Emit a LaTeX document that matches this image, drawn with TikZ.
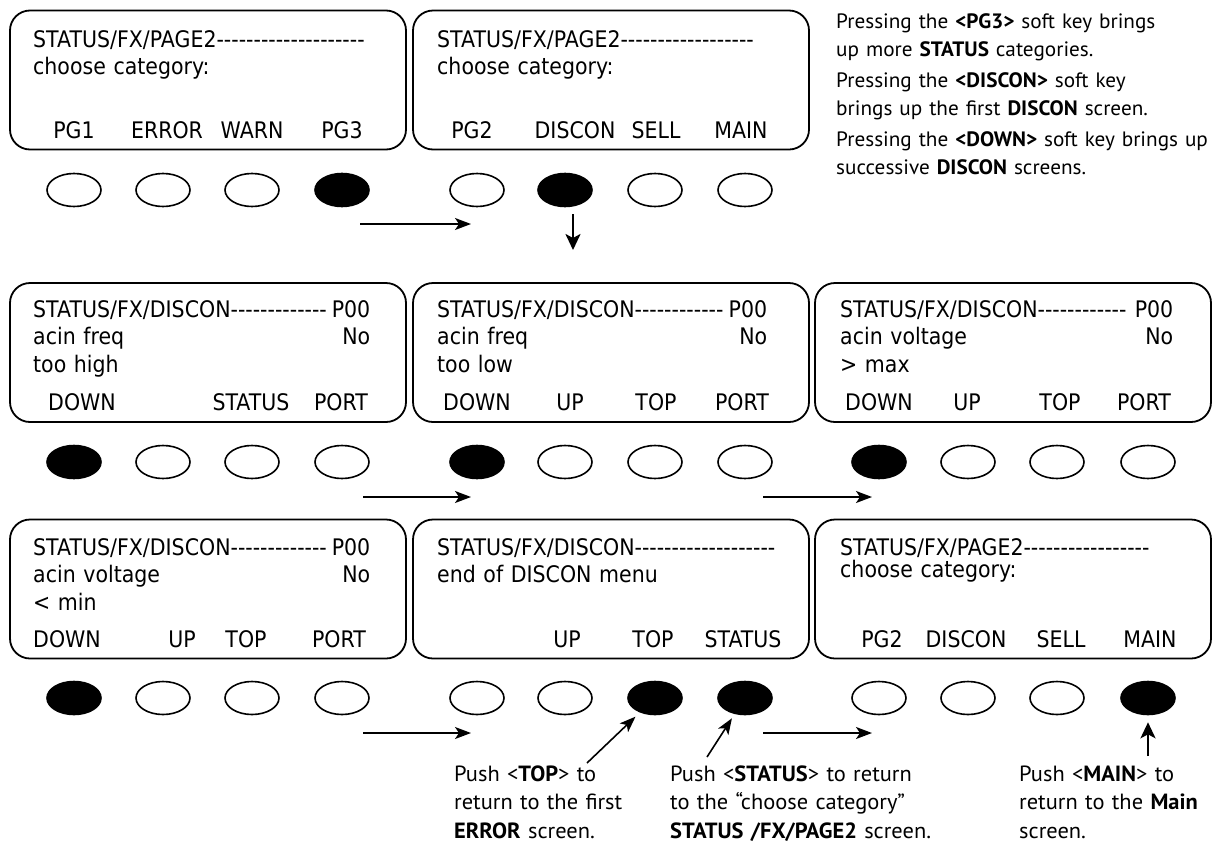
\documentclass[tikz,border=0pt]{standalone}
\usepackage{fontspec}
\setmainfont{PT Sans}[FakeStretch=1.02]
\newfontfamily\lcdfont[FakeStretch=0.9]{DejaVu Sans}
\usetikzlibrary{arrows.meta,shapes.geometric}

% a run of single hyphens (no en/em dash ligatures)
\ExplSyntaxOn
\newcommand\dashes[1]{\prg_replicate:nn{#1}{-{}}}
\ExplSyntaxOff

\tikzset{
  screen/.style={draw,line width=1.8pt,rounded corners=20pt,minimum width=396pt,minimum height=139pt,inner sep=0pt},
  lcd/.style={anchor=base west,align=left,inner sep=0pt,font=\lcdfont\fontsize{22.8}{27.5}\selectfont},
  keylabel/.style={anchor=base,inner sep=0pt,font=\lcdfont\fontsize{22.8}{27.5}\selectfont},
  softkey/.style={draw,ellipse,line width=1.6pt,minimum width=54pt,minimum height=33pt,inner sep=0pt},
  flow/.style={line width=1.6pt,-{Stealth[length=16pt,width=12pt,inset=4pt]}},
  push/.style={line width=2.4pt,-{Stealth[length=16pt,width=15pt,inset=4pt]}},
  note/.style={anchor=base west,align=left,inner sep=0pt,text width=450pt,font=\fontsize{22}{28.5}\selectfont},
}

\begin{document}
\begin{tikzpicture}[x=1pt,y=-1pt]
\useasboundingbox (0,0) rectangle (1213,844);

% screens
\node[screen] (s1) at (208,80) {};
\node[screen] (s2) at (611,80) {};
\node[screen] (s3) at (208,352.5) {};
\node[screen] (s4) at (611,352.5) {};
\node[screen] (s5) at (1013,352.5) {};
\node[screen] (s6) at (208,589) {};
\node[screen] (s7) at (611,589) {};
\node[screen] (s8) at (1013,589) {};

% screen text
\node[lcd,text width=360pt] (t1) at (33,47) {STATUS/FX/PAGE2\dashes{20}\\choose category:};
\node[lcd,text width=360pt] (t2) at (437,47) {STATUS/FX/PAGE2\dashes{18}\\choose category:};
\node[lcd,text width=337pt] (t3) at (33,317) {STATUS/FX/DISCON\dashes{13}\hfill P00\\acin freq\hfill No\\too high};
\node[lcd,text width=330pt] (t4) at (437,317) {STATUS/FX/DISCON\dashes{12}\hfill P00\\acin freq\hfill No\\too low};
\node[lcd,text width=333pt] (t5) at (840,317) {STATUS/FX/DISCON\dashes{12}\hfill P00\\acin voltage\hfill No\\> max};
\node[lcd,text width=337pt] (t6) at (33,555) {STATUS/FX/DISCON\dashes{13}\hfill P00\\acin voltage\hfill No\\< min};
\node[lcd,text width=360pt] (t7) at (437,555) {STATUS/FX/DISCON\dashes{19}\\end of DISCON menu};
\node[lcd,text width=360pt] (t8) at (840,555) {STATUS/FX/PAGE2\dashes{17}\\[-5.5pt]choose category:};

% soft key labels
\foreach \x/\t in {74/PG1,167/ERROR,252/WARN,342/PG3}
  \node[keylabel] (l1-\t) at (\x,138) {\t};
\foreach \x/\t in {472/PG2,575/DISCON,656/SELL,741/MAIN}
  \node[keylabel] (l2-\t) at (\x,138) {\t};
\foreach \x/\t in {82/DOWN,251/STATUS,341/PORT}
  \node[keylabel] (l3-\t) at (\x,410) {\t};
\foreach \x/\t in {477/DOWN,570/UP,656/TOP,742/PORT}
  \node[keylabel] (l4-\t) at (\x,410) {\t};
\foreach \x/\t in {879/DOWN,967/UP,1060/TOP,1144/PORT}
  \node[keylabel] (l5-\t) at (\x,410) {\t};
\foreach \x/\t in {67/DOWN,182/UP,246/TOP,339/PORT}
  \node[keylabel] (l6-\t) at (\x,647) {\t};
\foreach \x/\t in {567/UP,653/TOP,743/STATUS}
  \node[keylabel] (l7-\t) at (\x,647) {\t};
\foreach \x/\t in {882/PG2,966/DISCON,1061/SELL,1150/MAIN}
  \node[keylabel] (l8-\t) at (\x,647) {\t};

% soft keys
\foreach \x/\c [count=\i] in {74/white,163/white,252/white,342/black}
  \node[softkey,fill=\c] (k1\i) at (\x,190) {};
\foreach \x/\c [count=\i] in {477/white,565/black,655/white,745/white}
  \node[softkey,fill=\c] (k2\i) at (\x,190) {};
\foreach \x/\c [count=\i] in {74/black,163/white,252/white,342/white}
  \node[softkey,fill=\c] (k3\i) at (\x,462) {};
\foreach \x/\c [count=\i] in {477/black,565/white,655/white,745/white}
  \node[softkey,fill=\c] (k4\i) at (\x,462) {};
\foreach \x/\c [count=\i] in {879/black,968/white,1057/white,1148/white}
  \node[softkey,fill=\c] (k5\i) at (\x,462) {};
\foreach \x/\c [count=\i] in {74/black,163/white,252/white,342/white}
  \node[softkey,fill=\c] (k6\i) at (\x,698) {};
\foreach \x/\c [count=\i] in {477/white,565/white,655/black,745/black}
  \node[softkey,fill=\c] (k7\i) at (\x,698) {};
\foreach \x/\c [count=\i] in {879/white,968/white,1057/white,1148/black}
  \node[softkey,fill=\c] (k8\i) at (\x,698) {};

% flow between screens
\coordinate (r1a) at (360,224); \coordinate (r1b) at (471,224);
\coordinate (dsa) at (573,214); \coordinate (dsb) at (573,250);
\coordinate (r2a) at (363,497); \coordinate (r2b) at (471,497);
\coordinate (r3a) at (763,497); \coordinate (r3b) at (872,497);
\coordinate (r4a) at (363,733); \coordinate (r4b) at (471,733);
\coordinate (r5a) at (763,733); \coordinate (r5b) at (872,733);
\draw[flow] (r1a) -- (r1b);
\draw[push] (dsa) -- (dsb);
\draw[flow] (r2a) -- (r2b);
\draw[flow] (r3a) -- (r3b);
\draw[flow] (r4a) -- (r4b);
\draw[flow] (r5a) -- (r5b);

% notes
\node[note,font=\fontsize{20.8}{28}\selectfont] (ninfo) at (836,28) {Pressing the \textbf{<PG3>} soft key brings\\up more \textbf{STATUS} categories.\\[3pt]Pressing the \textbf{<DISCON>} soft key\\brings up the first \textbf{DISCON} screen.\\[3pt]Pressing the \textbf{<DOWN>} soft key brings up\\successive \textbf{DISCON} screens.};
\node[note] (ntop) at (454,781) {Push <\textbf{TOP}> to\\return to the first\\\textbf{ERROR} screen.};
\node[note] (nstatus) at (670,781) {Push <\textbf{STATUS}> to return\\to the “choose category”\\\textbf{STATUS /FX/PAGE2} screen.};
\node[note] (nmain) at (1019,781) {Push <\textbf{MAIN}> to\\return to the \textbf{Main}\\screen.};

\coordinate (ptop) at (587,763);
\coordinate (pstatus) at (707,757);
\coordinate (pmain) at (1148,756);
\draw[flow,shorten >=6pt] (ptop) -- (k73);
\draw[flow,shorten >=5pt] (pstatus) -- (k74);
\draw[push,shorten >=7pt] (pmain) -- (k84);
\end{tikzpicture}
\end{document}
